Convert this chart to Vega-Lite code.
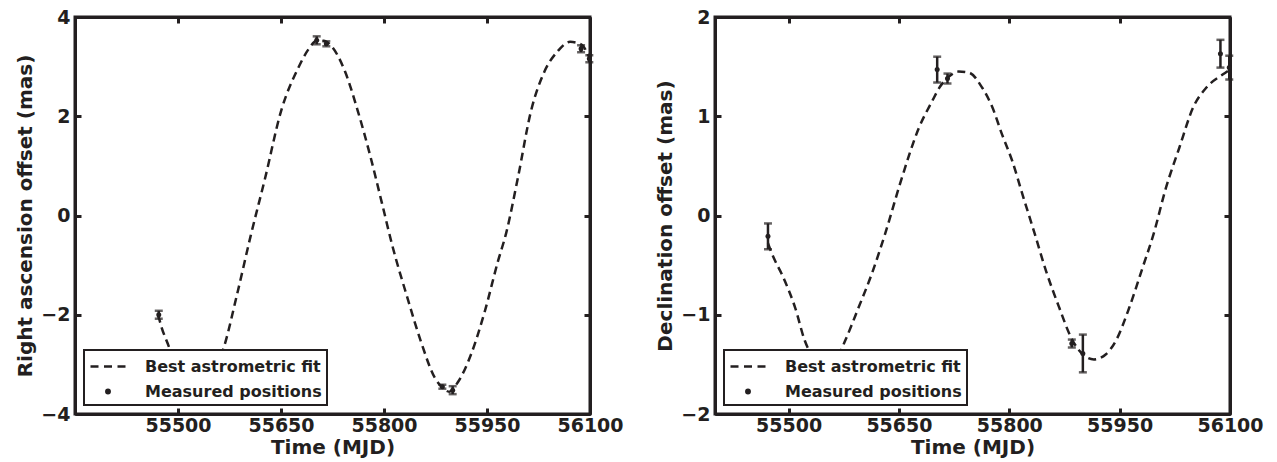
{
  "$schema": "https://vega.github.io/schema/vega-lite/v6.json",
  "background": "white",
  "padding": {"left": 14, "top": 6, "right": 5, "bottom": 2},
  "spacing": 29,
  "datasets": {
    "fitRA": [
      {"mjd": 55471, "ra": -2.0}, {"mjd": 55476, "ra": -2.25}, {"mjd": 55485, "ra": -2.58},
      {"mjd": 55495, "ra": -2.95}, {"mjd": 55510, "ra": -3.35}, {"mjd": 55527, "ra": -3.5},
      {"mjd": 55545, "ra": -3.35}, {"mjd": 55558, "ra": -3.0}, {"mjd": 55568, "ra": -2.6},
      {"mjd": 55585, "ra": -1.65}, {"mjd": 55606, "ra": -0.4}, {"mjd": 55627, "ra": 0.76},
      {"mjd": 55650, "ra": 2.1}, {"mjd": 55675, "ra": 2.97}, {"mjd": 55690, "ra": 3.35},
      {"mjd": 55702, "ra": 3.52}, {"mjd": 55712, "ra": 3.52}, {"mjd": 55723, "ra": 3.42},
      {"mjd": 55743, "ra": 2.91}, {"mjd": 55762, "ra": 2.1}, {"mjd": 55780, "ra": 1.2},
      {"mjd": 55797, "ra": 0.25}, {"mjd": 55812, "ra": -0.6}, {"mjd": 55835, "ra": -1.7},
      {"mjd": 55854, "ra": -2.55}, {"mjd": 55874, "ra": -3.27}, {"mjd": 55885, "ra": -3.47},
      {"mjd": 55895, "ra": -3.55}, {"mjd": 55908, "ra": -3.35}, {"mjd": 55927, "ra": -2.79},
      {"mjd": 55947, "ra": -1.92}, {"mjd": 55966, "ra": -0.92}, {"mjd": 55978, "ra": -0.35},
      {"mjd": 55995, "ra": 0.76}, {"mjd": 56014, "ra": 2.1}, {"mjd": 56034, "ra": 2.91},
      {"mjd": 56053, "ra": 3.31}, {"mjd": 56071, "ra": 3.5}, {"mjd": 56087, "ra": 3.45},
      {"mjd": 56100, "ra": 3.15}
    ],
    "ptsRA": [
      {"mjd": 55472, "ra": -2.0, "err": 0.08},
      {"mjd": 55702, "ra": 3.53, "err": 0.08},
      {"mjd": 55716, "ra": 3.46, "err": 0.05},
      {"mjd": 55885, "ra": -3.45, "err": 0.04},
      {"mjd": 55900, "ra": -3.52, "err": 0.08},
      {"mjd": 56087, "ra": 3.36, "err": 0.07},
      {"mjd": 56099, "ra": 3.16, "err": 0.07}
    ],
    "fitDec": [
      {"mjd": 55472, "dec": -0.28}, {"mjd": 55476, "dec": -0.36}, {"mjd": 55495, "dec": -0.66},
      {"mjd": 55509, "dec": -0.93}, {"mjd": 55522, "dec": -1.26}, {"mjd": 55535, "dec": -1.45},
      {"mjd": 55550, "dec": -1.52}, {"mjd": 55565, "dec": -1.45}, {"mjd": 55577, "dec": -1.26},
      {"mjd": 55595, "dec": -0.93}, {"mjd": 55613, "dec": -0.59}, {"mjd": 55631, "dec": -0.19},
      {"mjd": 55654, "dec": 0.38}, {"mjd": 55677, "dec": 0.88}, {"mjd": 55695, "dec": 1.15},
      {"mjd": 55706, "dec": 1.3}, {"mjd": 55718, "dec": 1.4}, {"mjd": 55731, "dec": 1.45},
      {"mjd": 55745, "dec": 1.44}, {"mjd": 55763, "dec": 1.29}, {"mjd": 55777, "dec": 1.09},
      {"mjd": 55790, "dec": 0.82}, {"mjd": 55804, "dec": 0.55}, {"mjd": 55818, "dec": 0.21},
      {"mjd": 55834, "dec": -0.17}, {"mjd": 55850, "dec": -0.56}, {"mjd": 55868, "dec": -0.93},
      {"mjd": 55884, "dec": -1.23}, {"mjd": 55900, "dec": -1.4}, {"mjd": 55915, "dec": -1.45},
      {"mjd": 55931, "dec": -1.4}, {"mjd": 55945, "dec": -1.26}, {"mjd": 55963, "dec": -0.93},
      {"mjd": 55981, "dec": -0.53}, {"mjd": 55996, "dec": -0.19}, {"mjd": 56013, "dec": 0.28},
      {"mjd": 56031, "dec": 0.68}, {"mjd": 56050, "dec": 1.09}, {"mjd": 56068, "dec": 1.29},
      {"mjd": 56090, "dec": 1.42}, {"mjd": 56100, "dec": 1.47}
    ],
    "ptsDec": [
      {"mjd": 55472, "dec": -0.21, "err": 0.13},
      {"mjd": 55702, "dec": 1.47, "err": 0.13},
      {"mjd": 55716, "dec": 1.38, "err": 0.05},
      {"mjd": 55885, "dec": -1.29, "err": 0.04},
      {"mjd": 55900, "dec": -1.39, "err": 0.19},
      {"mjd": 56087, "dec": 1.63, "err": 0.14},
      {"mjd": 56099, "dec": 1.49, "err": 0.12}
    ]
  },
  "config": {
    "font": "DejaVu Sans",
    "view": {"stroke": "#231f20", "strokeWidth": 3},
    "axis": {
      "labelFont": "DejaVu Sans", "labelFontWeight": "bold", "labelFontSize": 19, "labelColor": "#231f20",
      "titleFont": "DejaVu Sans", "titleFontWeight": "bold", "titleFontSize": 20, "titleColor": "#231f20",
      "domainColor": "#231f20", "domainWidth": 3, "tickColor": "#231f20", "tickWidth": 3, "tickSize": -6,
      "grid": false, "labelPadding": 14, "labelFlush": false
    },
    "legend": {
      "orient": "bottom-left", "offset": 9, "labelFont": "DejaVu Sans", "labelFontWeight": "bold",
      "labelFontSize": 16, "labelColor": "#231f20", "symbolSize": 400, "labelOffset": 33, "labelLimit": 400,
      "rowPadding": 5, "padding": 5, "strokeColor": "#231f20", "fillColor": "white"
    }
  },
  "resolve": {"scale": {"color": "independent"}, "legend": {"color": "independent"}},
  "hconcat": [
    {
      "width": 515, "height": 397,
      "resolve": {"axis": {"x": "independent", "y": "independent"}},
      "layer": [
        {
          "data": {"name": "fitRA"},
          "mark": {"type": "line", "strokeDash": [8, 5], "strokeWidth": 2.5, "interpolate": "monotone", "clip": true},
          "encoding": {
            "x": {"field": "mjd", "type": "quantitative", "scale": {"domain": [55350, 56100], "nice": false, "zero": false},
                  "axis": {"orient": "bottom", "values": [55500, 55650, 55800, 55950, 56100], "format": "d", "title": "Time (MJD)", "titlePadding": 2, "labelPadding": 8}},
            "y": {"field": "ra", "type": "quantitative", "scale": {"domain": [-4, 4], "nice": false, "zero": false},
                  "axis": {"orient": "left", "values": [-4, -2, 0, 2, 4], "title": "Right ascension offset (mas)", "titlePadding": 5, "labelPadding": 11}},
            "color": {"datum": "Best astrometric fit", "type": "nominal",
              "scale": {"domain": ["Best astrometric fit", "Measured positions"], "range": ["#231f20", "#231f20"]},
              "legend": {"title": null, "symbolSize": 400,
                "encode": {
                  "symbols": {"update": {
                    "shape": {"signal": "datum.value === 'Best astrometric fit' ? 'M-1,0H-0.2M0.35,0H1.15M1.7,0H2.5' : 'M0.58,0A0.17,0.17,0,1,1,0.92,0A0.17,0.17,0,1,1,0.58,0Z'"},
                    "size": {"value": 400},
                    "fill": {"value": "#231f20"}, "stroke": {"value": "#231f20"},
                    "strokeWidth": {"value": 2.5}, "strokeDash": {"value": []}, "opacity": {"value": 1}, "fillOpacity": {"value": 1}
                  }},
                  "legend": {"update": {"strokeWidth": {"value": 2}}}
                }}}
          }
        },
        {
          "data": {"name": "ptsRA"},
          "mark": {"type": "errorbar", "color": "#231f20", "thickness": 2.5, "ticks": {"size": 8, "thickness": 2.5}},
          "encoding": {
            "x": {"field": "mjd", "type": "quantitative", "scale": {"domain": [55350, 56100], "nice": false, "zero": false}, "axis": null},
            "y": {"field": "ra", "type": "quantitative", "scale": {"domain": [-4, 4], "nice": false, "zero": false}, "axis": null},
            "yError": {"field": "err"}
          }
        },
        {
          "data": {"name": "ptsRA"},
          "mark": {"type": "point", "filled": true, "size": 25, "opacity": 1},
          "encoding": {
            "x": {"field": "mjd", "type": "quantitative", "scale": {"domain": [55350, 56100], "nice": false, "zero": false},
                  "axis": {"orient": "top", "values": [55500, 55650, 55800, 55950, 56100], "labels": false, "title": null}},
            "y": {"field": "ra", "type": "quantitative", "scale": {"domain": [-4, 4], "nice": false, "zero": false},
                  "axis": {"orient": "right", "values": [-4, -2, 0, 2, 4], "labels": false, "title": null}},
            "color": {"datum": "Measured positions", "type": "nominal"}
          }
        }
      ]
    },
    {
      "width": 515, "height": 397,
      "resolve": {"axis": {"x": "independent", "y": "independent"}},
      "layer": [
        {
          "data": {"name": "fitDec"},
          "mark": {"type": "line", "strokeDash": [8, 5], "strokeWidth": 2.5, "interpolate": "monotone", "clip": true},
          "encoding": {
            "x": {"field": "mjd", "type": "quantitative", "scale": {"domain": [55400, 56100], "nice": false, "zero": false},
                  "axis": {"orient": "bottom", "values": [55500, 55650, 55800, 55950, 56100], "format": "d", "title": "Time (MJD)", "titlePadding": 2, "labelPadding": 8}},
            "y": {"field": "dec", "type": "quantitative", "scale": {"domain": [-2, 2], "nice": false, "zero": false},
                  "axis": {"orient": "left", "values": [-2, -1, 0, 1, 2], "title": "Declination offset (mas)", "titlePadding": 5, "labelPadding": 11}},
            "color": {"datum": "Best astrometric fit", "type": "nominal",
              "scale": {"domain": ["Best astrometric fit", "Measured positions"], "range": ["#231f20", "#231f20"]},
              "legend": {"title": null, "symbolSize": 400,
                "encode": {
                  "symbols": {"update": {
                    "shape": {"signal": "datum.value === 'Best astrometric fit' ? 'M-1,0H-0.2M0.35,0H1.15M1.7,0H2.5' : 'M0.58,0A0.17,0.17,0,1,1,0.92,0A0.17,0.17,0,1,1,0.58,0Z'"},
                    "size": {"value": 400},
                    "fill": {"value": "#231f20"}, "stroke": {"value": "#231f20"},
                    "strokeWidth": {"value": 2.5}, "strokeDash": {"value": []}, "opacity": {"value": 1}, "fillOpacity": {"value": 1}
                  }},
                  "legend": {"update": {"strokeWidth": {"value": 2}}}
                }}}
          }
        },
        {
          "data": {"name": "ptsDec"},
          "mark": {"type": "errorbar", "color": "#231f20", "thickness": 2.5, "ticks": {"size": 8, "thickness": 2.5}},
          "encoding": {
            "x": {"field": "mjd", "type": "quantitative", "scale": {"domain": [55400, 56100], "nice": false, "zero": false}, "axis": null},
            "y": {"field": "dec", "type": "quantitative", "scale": {"domain": [-2, 2], "nice": false, "zero": false}, "axis": null},
            "yError": {"field": "err"}
          }
        },
        {
          "data": {"name": "ptsDec"},
          "mark": {"type": "point", "filled": true, "size": 25, "opacity": 1},
          "encoding": {
            "x": {"field": "mjd", "type": "quantitative", "scale": {"domain": [55400, 56100], "nice": false, "zero": false},
                  "axis": {"orient": "top", "values": [55500, 55650, 55800, 55950, 56100], "labels": false, "title": null}},
            "y": {"field": "dec", "type": "quantitative", "scale": {"domain": [-2, 2], "nice": false, "zero": false},
                  "axis": {"orient": "right", "values": [-2, -1, 0, 1, 2], "labels": false, "title": null}},
            "color": {"datum": "Measured positions", "type": "nominal"}
          }
        }
      ]
    }
  ]
}
